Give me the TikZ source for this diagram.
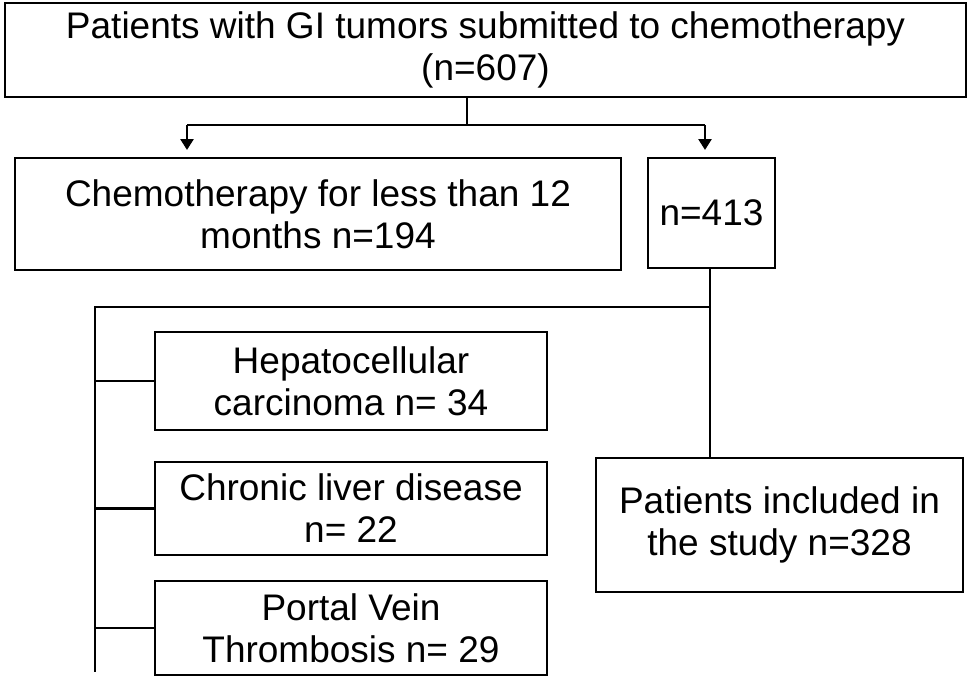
\documentclass[tikz,border=0pt]{standalone}
\usepackage{fontspec}
\setmainfont{Liberation Sans}
\usetikzlibrary{arrows.meta}
\begin{document}
\begin{tikzpicture}[x=1pt,y=-1pt,
  bx/.style={draw,line width=1.6pt,align=center,font=\fontsize{37}{42}\selectfont,inner sep=0pt},
  ln/.style={line width=2.6pt},
  ar/.style={ln,-{Triangle[length=11pt,width=13pt]}}]
\useasboundingbox (0,0) rectangle (969,678);
\node[bx,minimum width=961,minimum height=94] (top) at (485.5,50) {Patients with GI tumors submitted to chemotherapy\\(n=607)};
\node[bx,minimum width=606,minimum height=112] (less) at (318,214) {Chemotherapy for less than 12\\months n=194};
\node[bx,minimum width=127,minimum height=110] (n413) at (711.5,213) {n=413};
\node[bx,minimum width=392,minimum height=98] (hcc) at (351,381) {Hepatocellular\\carcinoma n= 34};
\node[bx,minimum width=392,minimum height=93] (cld) at (351,508.5) {Chronic liver disease\\n= 22};
\node[bx,minimum width=392,minimum height=94] (pvt) at (351,628) {Portal Vein\\Thrombosis n= 29};
\node[bx,minimum width=367,minimum height=134] (inc) at (779.5,525) {Patients included in\\the study n=328};
\coordinate (s) at (467,125);
\coordinate (sl) at (187,125);
\coordinate (sr) at (705,125);
\draw[ln] (top.south -| s) -- (s);
\draw[ln] (sl) -- (sr);
\draw[ar] (sl) -- (187,150);
\draw[ar] (sr) -- (705,150);
\coordinate (m) at (710,307);
\coordinate (l) at (95,307);
\draw[ln] (n413.south -| m) -- (inc.north -| m);
\draw[ln] (m) -- (l) -- (95,672);
\draw[ln] (95,381) -- (hcc.west);
\draw[ln] (95,508.5) -- (cld.west);
\draw[ln] (95,628) -- (pvt.west);
\end{tikzpicture}
\end{document}
